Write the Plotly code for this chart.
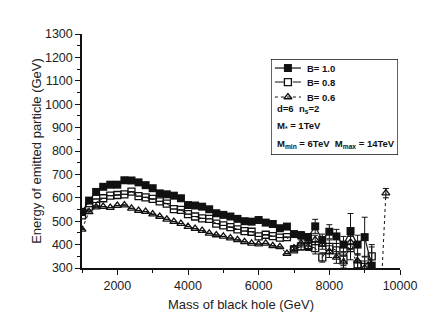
import plotly.graph_objects as go

# mass of black hole (GeV)
mass = [1000, 1200, 1400, 1600, 1800, 2000, 2200, 2400, 2600, 2800,
        3000, 3200, 3400, 3600, 3800, 4000, 4200, 4400, 4600, 4800,
        5000, 5200, 5400, 5600, 5800, 6000, 6200, 6400, 6600, 6800,
        7000, 7200, 7400, 7600, 7800, 8000, 8200, 8400, 8600, 8800,
        9000, 9200]
mass_b06 = mass + [9400, 9600]

# energy of emitted particle (GeV)
e_b10 = [540, 588, 625, 647, 656, 656, 675, 674, 666, 654,
         641, 619, 615, 609, 598, 569, 567, 562, 551, 534,
         527, 520, 510, 500, 498, 505, 494, 488, 470, 477,
         445, 440, 432, 478, 420, 455, 435, 400, 458, 400,
         432, 310]
e_b08 = [525, 562, 580, 598, 609, 612, 615, 626, 607, 602,
         595, 585, 575, 552, 548, 530, 520, 512, 510, 490,
         482, 475, 465, 458, 455, 435, 442, 436, 430, 432,
         380, 392, 395, 385, 345, 390, 375, 340, 385, 315,
         305, 350]
e_b06 = [465, 540, 560, 562, 558, 567, 569, 555, 545, 541,
         530, 520, 508, 498, 490, 477, 468, 460, 448, 441,
         435, 428, 420, 412, 405, 402, 405, 395, 390, 362,
         385, 405, 390, 420, 400, 370, 345, 325, 410, 330,
         300, 290, 0, 620]

# error bars
err_b10 = [0] * 30 + [10, 15, 15, 30, 25, 30, 30, 35, 75, 40, 85, 90]
err_b08 = [0] * 30 + [10, 15, 20, 25, 20, 30, 30, 30, 50, 40, 45, 40]
err_b06 = [0] * 30 + [10, 15, 15, 20, 20, 25, 25, 25, 30, 30, 30, 30, 0, 20]

series_names = ["B= 1.0", "B= 0.8", "B= 0.6"]
legend_notes = ["d=6  n<sub>s</sub>=2",
                "M<sub>*</sub> = 1TeV",
                "M<sub>min</sub> = 6TeV  M<sub>max</sub> = 14TeV"]

font = "Liberation Sans, Arial, sans-serif"
ink = "#111"

styles = [
    dict(line=dict(color=ink, width=1.2),
         marker=dict(symbol="square", size=8, color=ink)),
    dict(line=dict(color=ink, width=1, dash="dash"),
         marker=dict(symbol="square-open", size=7, color=ink, line=dict(width=1.3))),
    dict(line=dict(color=ink, width=1, dash="dot"),
         marker=dict(symbol="triangle-up-open", size=7, color=ink, line=dict(width=1.3))),
]

fig = go.Figure()
for xs, ys, err, st in [(mass, e_b10, err_b10, styles[0]),
                        (mass, e_b08, err_b08, styles[1]),
                        (mass_b06, e_b06, err_b06, styles[2])]:
    fig.add_trace(go.Scatter(
        x=xs, y=ys, mode="lines+markers", showlegend=False, **st,
        error_y=dict(type="data", array=err, color=ink, thickness=1, width=3)))

# hand-made legend box on its own small axes (pixel-like units)
row_y = [68, 82, 97]
for i, st in enumerate(styles):
    fig.add_trace(go.Scatter(
        x=[275, 288, 301], y=[row_y[i]] * 3, mode="lines", xaxis="x2", yaxis="y2",
        showlegend=False, hoverinfo="skip", line=st["line"]))
    fig.add_trace(go.Scatter(
        x=[288], y=[row_y[i]], mode="markers", xaxis="x2", yaxis="y2",
        showlegend=False, hoverinfo="skip", marker=st["marker"]))
    fig.add_annotation(xref="x2", yref="y2", x=305, y=row_y[i], xanchor="left",
                       yanchor="middle", showarrow=False,
                       text="<b>" + series_names[i] + "</b>",
                       font=dict(size=9.5, color=ink, family=font))

note_y = [109, 126, 144]
for i, txt in enumerate(legend_notes):
    fig.add_annotation(xref="x2", yref="y2", x=275, y=note_y[i], xanchor="left",
                       yanchor="middle", showarrow=False,
                       text="<b><span style='color:#111'>" + txt + "</span></b>",
                       font=dict(size=9.5, color=ink, family=font))

fig.add_shape(type="rect", xref="x2", yref="y2", x0=271, x1=398, y0=59, y1=155,
              line=dict(color=ink, width=1.5), fillcolor="rgba(0,0,0,0)")

axis_common = dict(showline=True, linecolor=ink, linewidth=1.5, showgrid=False,
                   zeroline=False, ticks="outside", ticklen=5, tickwidth=1.2,
                   tickcolor=ink, tickfont=dict(size=12.5, color="#222", family=font))

fig.update_layout(
    width=435, height=328,
    margin=dict(l=74, r=43, t=26, b=68),
    plot_bgcolor="white", paper_bgcolor="white",
    font=dict(family=font, color=ink),
    xaxis=dict(range=[1000, 10000], dtick=2000, tick0=0, tickformat="d",
               minor=dict(dtick=1000, ticks="outside", ticklen=3, tickcolor=ink),
               title=dict(text="Mass of black hole (GeV)", standoff=8,
                          font=dict(size=13, color="#222", family=font)),
               **axis_common),
    yaxis=dict(range=[300, 1300], dtick=100, tick0=0,
               minor=dict(dtick=50, ticks="outside", ticklen=3, tickcolor=ink),
               title=dict(text="Energy of emitted particle (GeV)", standoff=0,
                          font=dict(size=13, color="#222", family=font)),
               **axis_common),
    xaxis2=dict(domain=[0.594, 0.994], anchor="y2", range=[271, 398],
                visible=False, fixedrange=True),
    yaxis2=dict(domain=[0.483, 0.893], anchor="x2", range=[155, 59],
                visible=False, fixedrange=True),
)

fig.write_html("out.html")
